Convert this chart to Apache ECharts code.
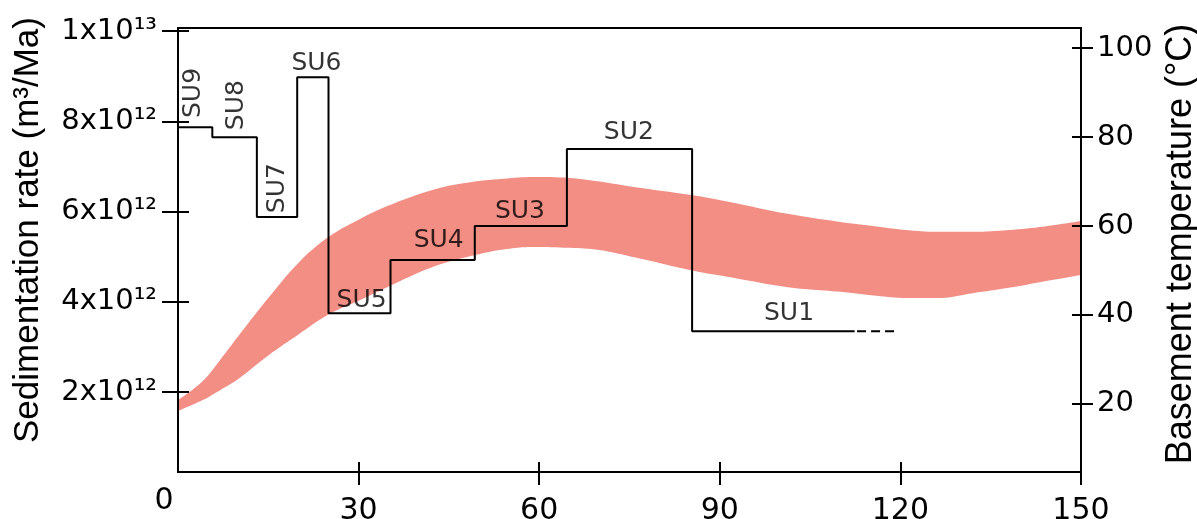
<!DOCTYPE html>
<html>
<head>
<meta charset="utf-8">
<title>Sedimentation rate and basement temperature</title>
<script src="https://cdn.jsdelivr.net/npm/echarts@6/dist/echarts.min.js"></script>
<style>
html,
body,
#main {
  margin: 0;
  padding: 0;
  width: 1197px;
  height: 519px;
  overflow: hidden;
  background: #fff;
}
</style>
</head>
<body>
<div id="main"></div>
<script>
// time axis (Ma)
const xTicks = [0, 30, 60, 90, 120, 150];
// sedimentation rate, in units of 1e12 m3/Ma
const rateTicks = [2, 4, 6, 8, 10];
const rateTickLabels = ["2x10¹²", "4x10¹²", "6x10¹²", "8x10¹²", "1x10¹³"];
// basement temperature (°C)
const tempTicks = [20, 40, 60, 80, 100];

// sedimentary units: step boundaries (Ma) and rates (x1e12)
const suNames = ["SU9", "SU8", "SU7", "SU6", "SU5", "SU4", "SU3", "SU2", "SU1"];
const suBounds = [0, 5.7, 13.1, 19.8, 25.0, 35.3, 49.3, 64.6, 85.4, 112.4];
const suRates = [7.87, 7.65, 5.88, 8.98, 3.75, 4.93, 5.68, 7.39, 3.35];
const su1DashEnd = 119.5;

// where the unit names sit
const suLabelX = [2.5, 9.8, 16.5, 23.0, 30.5, 43.3, 56.8, 74.9, 101.5];
const suLabelY = [8.63, 8.36, 6.52, 9.29, 4.04, 5.37, 6.01, 7.76, 3.75];
const suVertical = ["SU9", "SU8", "SU7"];

// basement temperature band (°C)
const bandX = [0, 4, 7, 10, 15, 20, 25, 30, 35, 42, 48, 54, 59, 65, 70, 76, 85, 92, 101, 110, 116, 121, 126, 132, 138, 144, 150];
const bandUpper = [20.9, 25.0, 29.9, 35.2, 43.8, 51.7, 57.5, 61.4, 64.6, 68.0, 69.7, 70.6, 71.0, 70.8, 70.0, 68.7, 67.0, 65.3, 62.8, 60.9, 59.9, 59.1, 58.7, 58.7, 59.1, 59.9, 61.1];
const bandLower = [18.4, 20.8, 23.1, 25.6, 30.9, 35.6, 40.1, 43.2, 46.4, 50.6, 53.0, 54.7, 55.3, 55.1, 54.6, 52.9, 50.1, 48.4, 46.3, 45.2, 44.3, 43.8, 43.8, 44.9, 46.1, 47.6, 49.0];

const black = { color: "#000", width: 2 };
const labelFont = "DejaVu Sans";
const titleFont = "Liberation Sans";

let stepData = [];
suRates.forEach((r, i) => {
  stepData.push([suBounds[i], r], [suBounds[i + 1], r]);
});
const lastRate = suRates[suRates.length - 1];

const labelData = suNames.map((n, i) => ({
  name: n,
  value: [suLabelX[i], suLabelY[i]],
  label: { rotate: suVertical.includes(n) ? 90 : 0 },
}));

const myChart = echarts.init(document.getElementById("main"));
const option = {
  animation: false,
  grid: {
    left: 178,
    right: 116,
    top: 28,
    bottom: 47,
    outerBoundsMode: "none",
    show: true,
    borderColor: "#000",
    borderWidth: 2,
  },
  xAxis: [
    {
      type: "value",
      min: 0,
      max: 150,
      position: "bottom",
      z: 5,
      axisLine: { show: true, lineStyle: black },
      axisTick: { show: true, customValues: [30, 60, 90, 120, 150], length: 13, lineStyle: black },
      splitLine: { show: false },
      axisLabel: {
        customValues: xTicks,
        margin: 14,
        formatter: (v) => (v === 0 ? "{z|0}" : "{n|" + v + "}"),
        rich: {
          z: { fontFamily: labelFont, fontSize: 30, color: "#000", padding: [0, 28, 0, 0] },
          n: { fontFamily: labelFont, fontSize: 30, color: "#000", padding: [10, 0, 0, 0] },
        },
      },
    },
    {
      type: "value",
      min: 0,
      max: 150,
      position: "bottom",
      z: 5,
      axisLine: { show: false },
      axisTick: { show: true, inside: true, customValues: [30, 60, 90, 120], length: 10, lineStyle: black },
      axisLabel: { show: false },
      splitLine: { show: false },
    },
  ],
  yAxis: [
    {
      type: "value",
      position: "left",
      min: 0.23,
      max: 10.07,
      z: 5,
      name: "Sedimentation rate (m³/Ma)",
      nameLocation: "middle",
      nameGap: 132,
      nameTextStyle: { fontFamily: titleFont, fontSize: 35, color: "#000", padding: [0, 0, 0, 40] },
      axisLine: { show: true, lineStyle: black },
      axisTick: { show: true, customValues: rateTicks, length: 16, lineStyle: black },
      splitLine: { show: false },
      axisLabel: {
        customValues: rateTicks,
        margin: 21,
        fontFamily: labelFont,
        fontSize: 29,
        color: "#000",
        formatter: (v) => rateTickLabels[rateTicks.indexOf(v)],
      },
    },
    {
      type: "value",
      position: "left",
      min: 0.23,
      max: 10.07,
      z: 5,
      axisLine: { show: false },
      axisTick: { show: true, inside: true, customValues: rateTicks, length: 11, lineStyle: black },
      axisLabel: { show: false },
      splitLine: { show: false },
    },
    {
      type: "value",
      position: "right",
      min: 4.7,
      max: 104.5,
      z: 5,
      name: "Basement temperature (°C)",
      nameLocation: "middle",
      nameGap: 79,
      nameRotate: 90,
      nameTextStyle: { fontFamily: titleFont, fontSize: 36, color: "#000", padding: [0, 0, 0, 12] },
      axisLine: { show: true, lineStyle: black },
      axisTick: { show: true, customValues: tempTicks, length: 12, lineStyle: black },
      splitLine: { show: false },
      axisLabel: {
        customValues: tempTicks,
        margin: 16,
        fontFamily: labelFont,
        fontSize: 29,
        color: "#000",
      },
    },
    {
      type: "value",
      position: "right",
      min: 4.7,
      max: 104.5,
      z: 5,
      axisLine: { show: false },
      axisTick: { show: true, inside: true, customValues: tempTicks, length: 9, lineStyle: black },
      axisLabel: { show: false },
      splitLine: { show: false },
    },
  ],
  series: [
    {
      // pink fill from the upper edge of the band down to the axis
      name: "Basement temperature",
      type: "line",
      yAxisIndex: 2,
      smooth: 0.4,
      symbol: "none",
      lineStyle: { width: 0, opacity: 0 },
      areaStyle: { color: "#f38e85", opacity: 1, origin: "start" },
      data: bandX.map((x, i) => [x, bandUpper[i]]),
      z: 1,
    },
    {
      // white fill below the lower edge cuts the band out
      name: "band-lower",
      type: "line",
      yAxisIndex: 2,
      smooth: 0.4,
      symbol: "none",
      lineStyle: { width: 0, opacity: 0 },
      areaStyle: { color: "#fff", opacity: 1, origin: "start" },
      data: bandX.map((x, i) => [x, bandLower[i]]),
      z: 2,
    },
    {
      name: "Sedimentation rate",
      type: "line",
      yAxisIndex: 0,
      symbol: "none",
      lineStyle: { color: "#000", width: 2 },
      data: stepData,
      z: 3,
    },
    {
      name: "SU1 extension",
      type: "line",
      yAxisIndex: 0,
      symbol: "none",
      lineStyle: { color: "#000", width: 2, type: [9, 5] },
      data: [
        [suBounds[suBounds.length - 1] + 0.4, lastRate],
        [su1DashEnd, lastRate],
      ],
      z: 3,
    },
    {
      name: "units",
      type: "scatter",
      yAxisIndex: 0,
      symbolSize: 0,
      label: {
        show: true,
        position: "inside",
        formatter: "{b}",
        fontFamily: labelFont,
        fontSize: 25,
        color: "#000",
      },
      data: labelData,
      z: 4,
    },
  ],
};
myChart.setOption(option);
window.onresize = myChart.resize;
</script>
</body>
</html>
